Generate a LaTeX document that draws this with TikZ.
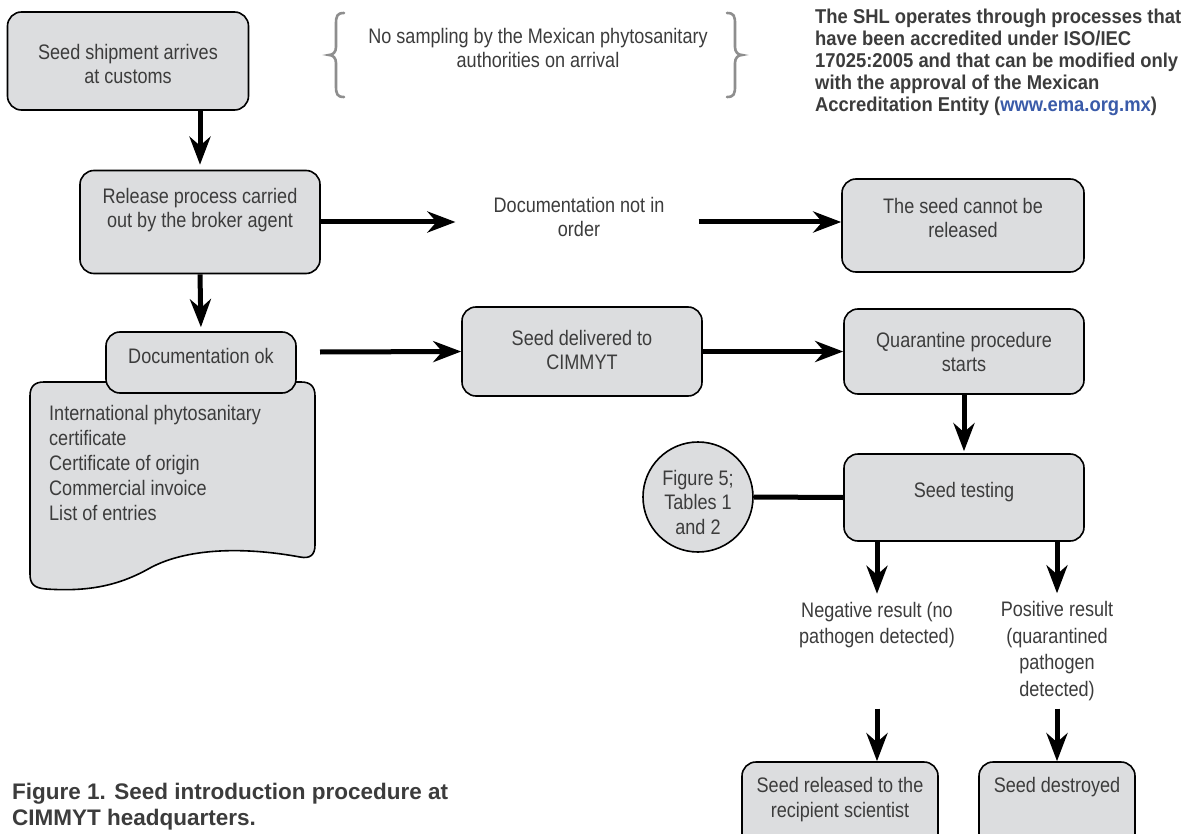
\documentclass[tikz,border=0pt]{standalone}
\usepackage{fontspec}
\setmainfont{Liberation Sans}
\newfontfamily\condf[FakeStretch=0.86]{Liberation Sans}
\newfontfamily\notef[FakeStretch=0.92]{Liberation Sans}
\usetikzlibrary{arrows.meta,calc}
\definecolor{boxgray}{HTML}{DCDDDF}
\definecolor{txtgray}{HTML}{3C3C3C}
\definecolor{bracegray}{HTML}{8E8E8E}
\definecolor{linkblue}{HTML}{3A5BA9}
\newcommand\mf{\condf\fontsize{21}{24.5}\selectfont}
\tikzset{
  boxshape/.style={draw=black, line width=1.6pt, fill=boxgray, rounded corners=14pt, inner sep=0pt},
  txt/.style={inner sep=0pt, align=center, text=txtgray, font=\mf},
  arr/.style={line width=5pt, -{Stealth[length=28pt,width=21pt,inset=9pt]}},
  conn/.style={line width=5pt},
  bracestyle/.style={draw=bracegray, line width=2.6pt, line cap=round}
}
\begin{document}
\begin{tikzpicture}[x=1pt,y=-1pt]
\clip (0,0) rectangle (1193,834);
\fill[white] (0,0) rectangle (1193,834);

% boxes
\node[boxshape, minimum width=241pt, minimum height=98pt] (b1) at (128,61) {};
\node[txt] (b1t) at (128,64) {Seed shipment arrives\\at customs};

\node[boxshape, minimum width=240pt, minimum height=103pt] (b2) at (200,222) {};
\node[txt] (b2t) at (200,210) {Release process carried\\out by the broker agent};

\node[txt] (docnot) at (579,217) {Documentation not in\\order};

\node[boxshape, minimum width=242pt, minimum height=93pt] (nr) at (963,225.5) {};
\node[txt] (nrt) at (963,218) {The seed cannot be\\released};

% document shape
\path[draw=black, line width=1.6pt, fill=boxgray]
  (30,396) -- (30,574) .. controls (30,584) and (34,588) .. (46,589)
  .. controls (90,592) and (120,585) .. (150,568)
  .. controls (185,549) and (240,546) .. (300,557)
  .. controls (310,559) and (315,555) .. (315,545)
  -- (315,396) .. controls (315,386) and (310,382) .. (301,382)
  -- (44,382) .. controls (35,382) and (30,386) .. (30,396) -- cycle;
\node[txt, align=left, anchor=north west, font=\condf\fontsize{21}{25}\selectfont] (doclist) at (49,405.5)
  {International phytosanitary\\certificate\\Certificate of origin\\Commercial invoice\\List of entries};

\node[boxshape, minimum width=190pt, minimum height=61pt] (docok) at (201,362.5) {};
\node[txt] (docokt) at (201,356) {Documentation ok};

\node[boxshape, minimum width=240pt, minimum height=89pt] (sd) at (582,351.5) {};
\node[txt] (sdt) at (582,350) {Seed delivered to\\CIMMYT};

\node[boxshape, minimum width=240pt, minimum height=85pt] (qp) at (964,351.5) {};
\node[txt] (qpt) at (964,352) {Quarantine procedure\\starts};

\node[boxshape, minimum width=240pt, minimum height=87pt] (st) at (964,497.5) {};
\node[txt] (stt) at (964,492) {Seed testing};

\node[circle, draw=black, line width=1.6pt, fill=boxgray, minimum size=110pt, inner sep=0pt] (circ) at (698,497) {};
\node[txt] (circt) at (698,502) {Figure 5;\\Tables 1\\and 2};

\node[txt, font=\condf\fontsize{21}{26.5}\selectfont] (negt) at (877,625) {Negative result (no\\pathogen detected)};
\node[txt, font=\condf\fontsize{21}{26.5}\selectfont] (post) at (1057,651) {Positive result\\(quarantined\\pathogen\\detected)};

\node[boxshape, minimum width=196pt, minimum height=88pt] (sr) at (840,806) {};
\node[txt] (srt) at (840,799.5) {Seed released to the\\recipient scientist};

\node[boxshape, minimum width=156pt, minimum height=88pt] (sdst) at (1057,806) {};
\node[txt] (sdstt) at (1057,787) {Seed destroyed};

% braces and note
\draw[bracestyle] (344,13) .. controls (337,13) and (336,16) .. (336,24) -- (336,47)
  .. controls (336,52) and (333,55) .. (329,55) .. controls (333,55) and (336,58) .. (336,63)
  -- (336,86) .. controls (336,94) and (337,97) .. (344,97);
\draw[bracestyle] (727,13) .. controls (734,13) and (735,16) .. (735,24) -- (735,47)
  .. controls (735,52) and (738,55) .. (742,55) .. controls (738,55) and (735,58) .. (735,63)
  -- (735,86) .. controls (735,94) and (734,97) .. (727,97);
\node[txt] (nosamp) at (538,48) {No sampling by the Mexican phytosanitary\\authorities on arrival};

\node[inner sep=0pt, anchor=north west, align=left, text=txtgray,
  font=\notef\bfseries\fontsize{20}{22}\selectfont] (note) at (815,9)
  {The SHL operates through processes that\\have been accredited under ISO/IEC\\17025:2005 and that can be modified only\\with the approval of the Mexican\\Accreditation Entity ({\color{linkblue}www.ema.org.mx})};

\node[inner sep=0pt, anchor=north west, align=left, text=txtgray,
  font=\bfseries\fontsize{22.5}{25.5}\selectfont] (caption) at (12,783)
  {Figure 1. Seed introduction procedure at\\CIMMYT headquarters.};

% connectors
\coordinate (docR) at (320,352);
\draw[arr] (b2.north |- b1.south) -- (b2.north) [shorten >=5pt];
\draw[arr, shorten >=4pt] (b2.south) -- (docok.north);
\draw[arr, shorten >=38pt] (b2.east) -- (b2.east -| docnot.west);
\draw[arr, shorten <=34pt] (docnot.east |- b2.east) -- (nr.west |- b2.east);
\draw[arr] (docR) -- (sd.west);
\draw[arr] (sd.east) -- (qp.west);
\draw[arr, shorten >=2pt] (qp.south) -- (st.north);
\draw[conn] (circ.east) -- (st.west);
\draw[arr, shorten >=8pt] (negt.north |- st.south) -- (negt.north);
\draw[arr, shorten >=8pt] (post.north |- st.south) -- (post.north);
\draw[arr, shorten <=8pt] (negt.south |- post.south) -- (negt.south |- sr.north);
\draw[arr, shorten <=8pt] (post.south) -- (sdst.north);
\end{tikzpicture}
\end{document}
